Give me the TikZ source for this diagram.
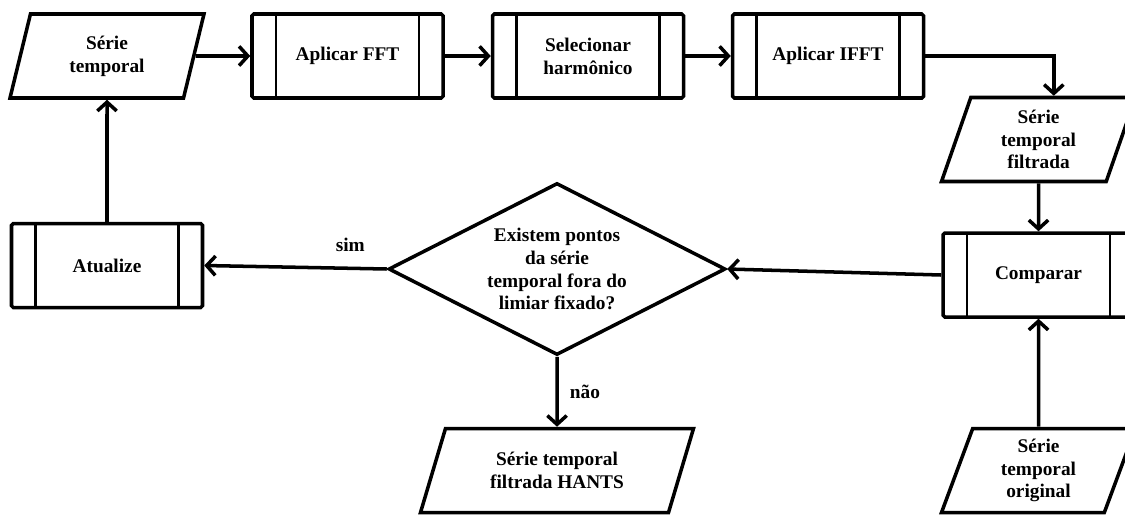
\documentclass[tikz,border=0pt]{standalone}
\usepackage{fontspec}
\setmainfont{Liberation Serif}
\usepackage{tikz}
\usetikzlibrary{shapes.geometric, arrows.meta, calc}

\begin{document}
\begin{tikzpicture}[thick, font=\bfseries\fontsize{11}{13}\selectfont]
    \useasboundingbox (0,0) rectangle (22.5,-10.3);

    % Define styles for boxes and arrows
    \tikzstyle{subprocess} = [rectangle, rounded corners=1pt, minimum width=3.82cm, minimum height=1.68cm, text centered, align=center, draw=black, line width=2pt,
        path picture={
            \draw[line width=1.5pt] ([xshift=0.48cm]path picture bounding box.north west) -- ([xshift=0.48cm]path picture bounding box.south west);
            \draw[line width=1.5pt] ([xshift=-0.48cm]path picture bounding box.north east) -- ([xshift=-0.48cm]path picture bounding box.south east);
        }]
    \tikzstyle{io} = [trapezium, trapezium left angle=65, trapezium right angle=115, trapezium stretches body, minimum width=3.88cm, minimum height=1.68cm, inner sep=1pt, text centered, align=center, draw=black, line width=2pt]
    \tikzstyle{decision} = [diamond, aspect=1.96, minimum width=6.74cm, minimum height=3.44cm, inner sep=0pt, text centered, align=center, draw=black, line width=2pt]
    \tikzstyle{arrow} = [line width=2pt, -{Straight Barb[length=5pt,width=11pt]}]

    % boxes
    \node (serie) [io] at (2.14, -1.12) {Série\\temporal};
    \node (fft) [subprocess] at (6.95, -1.12) {Aplicar FFT};
    \node (harm) [subprocess] at (11.76, -1.12) {Selecionar\\harmônico};
    \node (ifft) [subprocess] at (16.56, -1.12) {Aplicar IFFT};
    \node (filt) [io] at (20.77, -2.79) {Série\\temporal\\filtrada};
    \node (comp) [subprocess] at (20.77, -5.50) {Comparar};
    \node (orig) [io] at (20.77, -9.41) {Série\\temporal\\original};
    \node (check) [decision] at (11.14, -5.38) {Existem pontos\\da série\\temporal fora do\\limiar fixado?};
    \node (hants) [io, trapezium left angle=58, trapezium right angle=122, minimum width=5.46cm] at (11.14, -9.41) {Série temporal\\filtrada HANTS};
    \node (atual) [subprocess] at (2.14, -5.31) {Atualize};

    % extra
    \coordinate (filtin) at ($(filt.top left corner)!0.5!(filt.top right corner)$);

    % Arrows
    \draw [arrow] (serie) -- (fft);
    \draw [arrow] (fft) -- (harm);
    \draw [arrow] (harm) -- (ifft);
    \draw [arrow] (ifft.east) -| (filtin);
    \draw [arrow] (filt) -- (comp);
    \draw [arrow] (orig) -- (comp);
    \draw [arrow] (comp.west) -- (check.east);
    \draw [arrow] (check.west) -- node[pos=0.2, above=5pt] {sim} (atual.east);
    \draw [arrow] (check) -- node[right=3pt] {não} (hants);
    \draw [arrow] (atual) -- (serie);
\end{tikzpicture}
\end{document}
